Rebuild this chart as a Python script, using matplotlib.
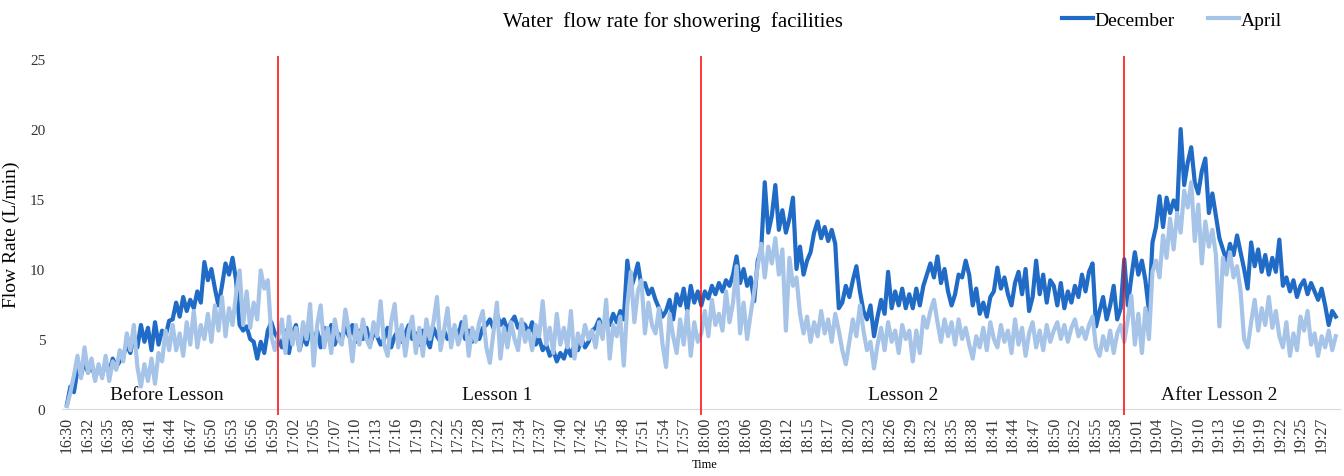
import numpy as np
import matplotlib
matplotlib.use("Agg")
import matplotlib.pyplot as plt

# flow rate (L/min), one reading every half minute from 16:30 to 19:30
step_min = 0.5

december = [
    0.3, 1.6, 1.2, 2.8, 2.4, 3.4, 2.6, 3.2, 2.2, 3.0,
    2.4, 3.3, 2.6, 3.6, 3.0, 3.4, 3.8, 4.6, 4.0, 5.2,
    4.4, 6.0, 4.8, 5.8, 4.2, 6.2, 4.6, 5.6, 5.2, 6.3,
    6.4, 7.6, 6.6, 8.0, 7.0, 7.8, 7.2, 8.4, 7.6, 10.5,
    9.2, 10.0, 8.6, 7.4, 8.8, 10.4, 9.6, 10.8, 9.2, 6.0,
    5.6, 5.9, 5.0, 4.8, 3.6, 4.8, 4.0, 5.6, 6.2, 5.4,
    5.0, 4.4, 5.6, 4.0, 5.4, 6.0, 4.2, 5.2, 4.6, 5.8,
    4.8, 5.6, 4.4, 5.8, 5.0, 6.0, 4.6, 5.4, 5.0, 5.8,
    5.2, 6.0, 4.8, 5.6, 5.0, 5.8, 4.6, 5.4, 5.2, 4.6,
    5.0, 5.8, 4.4, 5.2, 5.6, 4.8, 5.4, 6.0, 5.0, 5.4,
    4.6, 5.6, 5.0, 4.4, 5.8, 5.2, 4.8, 5.6, 5.0, 5.4,
    5.8, 5.2, 6.2, 5.0, 5.6, 4.8, 5.4, 5.0, 5.8, 6.0,
    6.4, 5.8, 6.8, 6.0, 6.4, 5.6, 6.2, 6.6, 5.8, 6.2,
    6.0, 5.4, 6.2, 4.6, 5.0, 4.2, 4.6, 3.8, 4.2, 3.4,
    4.0, 3.6, 4.4, 3.8, 4.6, 4.2, 5.0, 4.4, 4.8, 5.6,
    5.8, 6.4, 5.6, 6.6, 6.0, 6.8, 6.2, 7.0, 6.4, 10.6,
    8.6, 9.4, 10.4, 8.8, 9.0, 8.2, 8.6, 7.8, 7.2, 6.6,
    7.0, 7.8, 6.4, 8.2, 7.4, 8.6, 7.0, 8.8, 7.6, 8.4,
    7.4, 8.4, 7.9, 8.8, 8.2, 9.0, 8.4, 9.2, 8.8, 9.6,
    10.9, 9.0, 10.0, 8.8, 9.4, 7.7, 10.6, 11.4, 16.2, 12.6,
    13.8, 16.0, 12.8, 14.2, 12.6, 13.6, 15.1, 10.0, 11.6, 9.6,
    10.6, 11.2, 12.6, 13.4, 12.2, 13.0, 12.0, 12.8, 11.8, 7.2,
    7.6, 8.8, 8.0, 9.2, 10.2, 8.4, 7.0, 6.4, 7.4, 5.2,
    6.6, 7.8, 6.8, 9.8, 7.2, 8.4, 7.4, 8.6, 7.2, 8.2,
    7.2, 8.6, 7.4, 8.8, 9.6, 10.4, 9.4, 10.9, 9.0, 10.0,
    8.4, 7.4, 8.2, 9.6, 9.4, 10.6, 9.6, 7.4, 8.6, 6.8,
    7.6, 6.6, 8.0, 8.4, 10.1, 8.6, 9.4, 8.2, 7.4, 9.0,
    9.8, 8.2, 10.0, 7.0, 8.0, 10.6, 8.2, 9.6, 7.6, 9.2,
    8.8, 7.4, 9.0, 7.2, 8.4, 7.6, 8.8, 8.0, 9.6, 8.4,
    9.8, 10.4, 5.9, 7.0, 8.0, 6.4, 7.4, 8.8, 6.4, 7.2,
    10.7, 7.4, 9.4, 11.2, 9.6, 10.6, 9.2, 7.0, 11.9, 13.0,
    15.2, 13.0, 15.1, 14.0, 14.9, 14.2, 20.0, 16.0, 17.6, 18.7,
    16.2, 15.4, 17.0, 17.9, 14.0, 15.4, 13.8, 12.2, 11.4, 10.6,
    11.8, 11.0, 12.4, 11.2, 10.0, 8.6, 11.9, 10.2, 11.4, 9.8,
    11.0, 9.6, 10.8, 9.8, 12.1, 8.8, 9.4, 8.4, 9.2, 8.0,
    8.8, 9.2, 8.2, 9.0, 8.4, 7.8, 8.6, 7.4, 6.0, 7.0,
    6.6,
]

april = [
    0.2, 1.2, 2.4, 3.8, 2.2, 4.4, 2.6, 3.6, 2.0, 3.2,
    2.2, 3.8, 2.0, 3.4, 2.8, 4.2, 3.4, 5.4, 4.2, 6.0,
    3.0, 1.6, 3.2, 2.0, 3.6, 1.8, 4.0, 3.4, 5.6, 4.2,
    6.0, 4.2, 5.4, 3.8, 6.2, 4.6, 7.0, 4.4, 6.0, 5.0,
    6.8, 4.8, 7.4, 5.6, 8.0, 5.2, 7.2, 6.0, 8.2, 9.9,
    6.0, 8.4, 5.8, 7.6, 6.4, 9.9, 8.6, 9.2, 5.2, 4.2,
    5.2, 6.4, 4.0, 6.6, 4.6, 5.8, 4.2, 6.2, 5.0, 7.5,
    3.1, 6.0, 7.4, 4.4, 5.8, 4.0, 6.4, 5.0, 4.6, 7.1,
    5.6, 3.4, 6.0, 4.6, 6.4, 5.0, 4.4, 6.2, 5.2, 7.7,
    4.6, 3.8, 6.2, 7.5, 4.4, 6.0, 3.8, 5.6, 6.6, 4.0,
    5.8, 3.8, 6.4, 5.0, 6.2, 8.0, 4.2, 5.6, 7.2, 4.4,
    6.0, 4.6, 5.4, 6.6, 3.8, 5.8, 4.8, 6.2, 7.0, 4.4,
    3.3, 5.4, 7.6, 3.6, 5.8, 4.4, 6.2, 5.0, 4.2, 6.4,
    4.8, 5.6, 4.2, 6.0, 5.2, 7.7, 4.6, 5.8, 4.0, 6.8,
    4.6, 5.8, 4.4, 7.0, 3.6, 5.4, 4.6, 6.0, 5.0, 5.6,
    4.4, 6.2, 5.0, 7.8, 3.6, 6.0, 5.2, 6.6, 3.1, 7.4,
    9.8, 6.2, 8.4, 9.2, 5.4, 7.6, 6.0, 5.4, 7.2, 4.6,
    3.0, 6.8, 5.2, 4.0, 6.4, 4.6, 7.0, 3.8, 6.2, 4.8,
    5.4, 7.0, 5.2, 7.8, 6.0, 6.8, 5.6, 8.4, 6.2, 7.6,
    10.2, 5.4, 7.6, 5.0, 6.8, 8.4, 10.2, 11.8, 9.4, 11.6,
    10.4, 12.2, 9.6, 11.4, 5.6, 10.8, 8.8, 9.4, 6.8, 5.4,
    6.6, 4.8, 6.2, 5.2, 7.0, 5.4, 6.4, 4.8, 6.8, 5.6,
    4.2, 3.2, 4.8, 6.4, 5.2, 7.4, 5.6, 4.2, 4.8, 2.9,
    4.6, 5.8, 4.2, 6.2, 4.8, 5.6, 4.0, 6.0, 5.0, 5.6,
    3.4, 5.6, 4.0, 6.6, 5.8, 7.0, 7.8, 6.2, 4.8, 6.4,
    5.2, 6.2, 4.6, 6.4, 5.0, 5.8, 4.6, 3.6, 5.2, 4.4,
    5.8, 4.2, 6.2, 5.0, 4.4, 6.0, 4.8, 5.6, 4.0, 6.4,
    4.6, 5.8, 3.8, 5.4, 6.2, 4.4, 5.6, 4.2, 6.0, 4.8,
    5.6, 6.2, 5.0, 6.0, 4.8, 5.8, 6.4, 5.2, 5.8, 5.0,
    6.0, 6.6, 4.4, 3.8, 5.2, 4.2, 5.6, 4.0, 5.4, 6.0,
    4.8, 6.4, 8.1, 4.6, 6.8, 4.0, 7.2, 5.0, 9.8, 10.6,
    9.4, 12.4, 10.8, 13.6, 11.4, 14.0, 12.6, 15.6, 14.4, 16.2,
    12.0, 14.6, 10.4, 13.4, 11.6, 12.8, 11.0, 5.9, 10.8, 9.6,
    11.2, 9.4, 10.2, 8.4, 5.0, 4.4, 6.2, 7.8, 5.6, 7.2,
    6.0, 8.0, 5.8, 7.0, 5.2, 4.4, 6.2, 3.8, 5.4, 4.2,
    6.6, 5.6, 7.0, 4.6, 5.4, 3.8, 5.2, 4.4, 5.6, 4.2,
    5.2,
]

tick_labels = [
    "16:30", "16:32", "16:35", "16:38", "16:41", "16:44", "16:47", "16:50",
    "16:53", "16:56", "16:59", "17:02", "17:05", "17:07", "17:10", "17:13",
    "17:16", "17:19", "17:22", "17:25", "17:28", "17:31", "17:34", "17:37",
    "17:40", "17:42", "17:45", "17:48", "17:51", "17:54", "17:57", "18:00",
    "18:03", "18:06", "18:09", "18:12", "18:15", "18:17", "18:20", "18:23",
    "18:26", "18:29", "18:32", "18:35", "18:38", "18:41", "18:44", "18:47",
    "18:50", "18:52", "18:55", "18:58", "19:01", "19:04", "19:07", "19:10",
    "19:13", "19:16", "19:19", "19:22", "19:25", "19:27",
]

# lesson boundaries (minutes after 16:30) and period names
boundaries = [30, 90, 150]
periods = ["Before Lesson", "Lesson 1", "Lesson 2", "After Lesson 2"]
period_x = [14.2, 61, 118.7, 163.5]

plt.rcParams["font.family"] = ["Liberation Serif", "DejaVu Serif"]

fig = plt.figure(figsize=(13.44, 4.77), dpi=100)
ax = fig.add_axes([0.0461, 0.1405, 0.9509, 0.7335])

t = np.arange(len(december)) * step_min
ax.plot(t, december, color="#1F6BC6", lw=3.0, label="December")
ax.plot(t, april, color="#A6C3E8", lw=3.0, label="April")

ax.vlines(boundaries, -0.4, 25.2, color="#FF0000", lw=1.1, clip_on=False, zorder=5)
for name, x in zip(periods, period_x):
    ax.text(x, 1.0, name, ha="center", va="center", fontsize=14, color="#111111")

ax.set_xlim(-0.7, 180.6)
ax.set_ylim(0, 25)
ax.set_yticks(range(0, 26, 5))
ax.set_xticks(np.linspace(0, 178, len(tick_labels)))
ax.set_xticklabels(tick_labels, rotation=90, fontsize=11.5)
ax.tick_params(axis="x", length=0, pad=5, colors="#333333")
ax.tick_params(axis="y", length=0, pad=12, labelsize=11, colors="#333333")
for s in ["top", "right", "left"]:
    ax.spines[s].set_visible(False)
ax.spines["bottom"].set_color("#D9D9D9")

ax.set_ylabel("Flow Rate (L/min)", fontsize=14)
ax.yaxis.set_label_coords(-0.033, 0.5)
fig.text(0.5245, 0.018, "Time", ha="center", fontsize=9)
fig.text(0.501, 0.953, "Water  flow rate for showering  facilities", ha="center",
         va="center", fontsize=15)

fig.legend(loc="center", bbox_to_anchor=(0.872, 0.955), ncol=2, frameon=False,
           fontsize=14, handlelength=1.6, handletextpad=0.1, columnspacing=1.7)

fig.savefig("out.png", dpi=100)
